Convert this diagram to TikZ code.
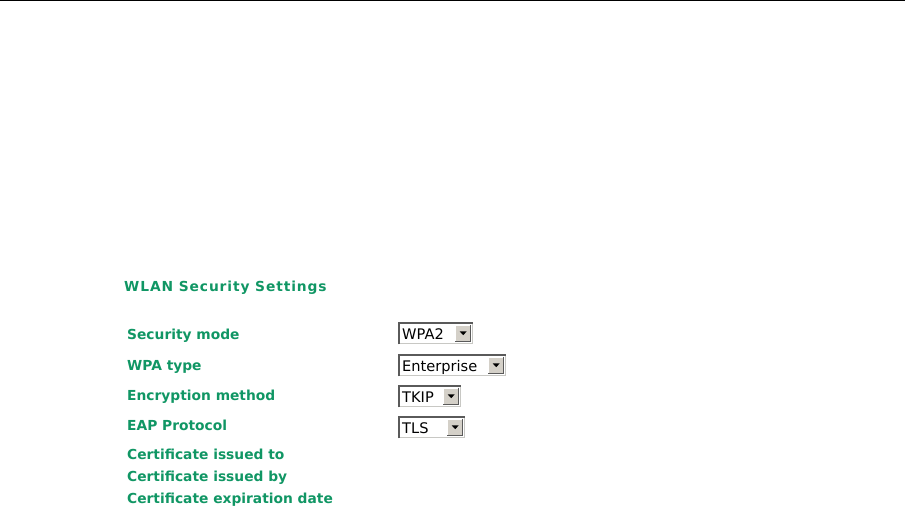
\documentclass[tikz,border=0pt]{standalone}
\usepackage{fontspec}
\setmainfont{DejaVu Sans}
\definecolor{labelgreen}{RGB}{16,150,100}
\definecolor{btngray}{RGB}{212,208,200}
\definecolor{edgedark}{RGB}{90,90,90}
\definecolor{edgelight}{RGB}{200,200,196}

\begin{document}
\begin{tikzpicture}[x=1pt, y=-1pt,
    lbl/.style={anchor=base west, inner sep=0pt, text=labelgreen,
        font=\fontsize{13.8}{16}\bfseries\selectfont},
    dropbox/.style={anchor=north west, fill=white, inner sep=0pt, minimum height=22pt},
    droptext/.style={anchor=base west, inner sep=0pt, font=\fontsize{14.6}{17}\selectfont},
    dropbtn/.style={anchor=east, fill=btngray, inner sep=0pt, minimum width=16pt, minimum height=17pt}]
            \useasboundingbox (0,0) rectangle (913,519);
            \coordinate (rule-l) at (0,0.75); \coordinate (rule-r) at (905,0.75);
            \draw[line width=1.5pt] (rule-l) -- (rule-r);
            % title and field labels
            \node[lbl, font=\fontsize{13.8}{16}\bfseries\addfontfeatures{LetterSpace=6.5}\selectfont] (title) at (124,291.5) {WLAN Security Settings};
            \node[lbl] (l-mode) at (127,339) {Security mode};
            \node[lbl] (l-type) at (127,370) {WPA type};
            \node[lbl] (l-enc) at (127,400) {Encryption method};
            \node[lbl] (l-eap) at (127,430.5) {EAP Protocol};
            \node[lbl] (l-to) at (127,459) {Certificate issued to};
            \node[lbl] (l-by) at (127,481) {Certificate issued by};
            \node[lbl] (l-exp) at (127,503) {Certificate expiration date};
            % drop-down boxes
            \foreach \name/\txt/\boxw/\top in {mode/WPA2/75/322, type/Enterprise/108/354, enc/TKIP/63/385, eap/TLS/67/416} {
                \node[dropbox, minimum width=\boxw pt] (\name) at (398,\top) {};
                \draw[edgelight, line width=1.5pt] ([xshift=-0.75pt]\name.north east) -- ([xshift=-0.75pt,yshift=0.75pt]\name.south east) -- ([yshift=0.75pt]\name.south west);
                \draw[edgedark, line width=2pt] ([xshift=1pt]\name.south west) -- ([xshift=1pt,yshift=-1pt]\name.north west) -- ([yshift=-1pt]\name.north east);
                \node[droptext] (\name-txt) at (402,\top+17.5) {\txt};
                \node[dropbtn] (\name-btn) at ([xshift=-2pt]\name.east) {};
                \draw[white, line width=1pt] ([xshift=0.5pt]\name-btn.south west) -- ([xshift=0.5pt,yshift=-0.5pt]\name-btn.north west) -- ([yshift=-0.5pt]\name-btn.north east);
                \draw[edgedark, line width=1pt] ([xshift=-0.5pt]\name-btn.north east) -- ([xshift=-0.5pt,yshift=0.5pt]\name-btn.south east) -- ([yshift=0.5pt]\name-btn.south west);
                \fill ([xshift=-3.5pt,yshift=1.8pt]\name-btn.center) -- ++(7pt,0pt) -- ++(-3.5pt,-3.8pt) -- cycle;
            }
        \end{tikzpicture}
\end{document}
